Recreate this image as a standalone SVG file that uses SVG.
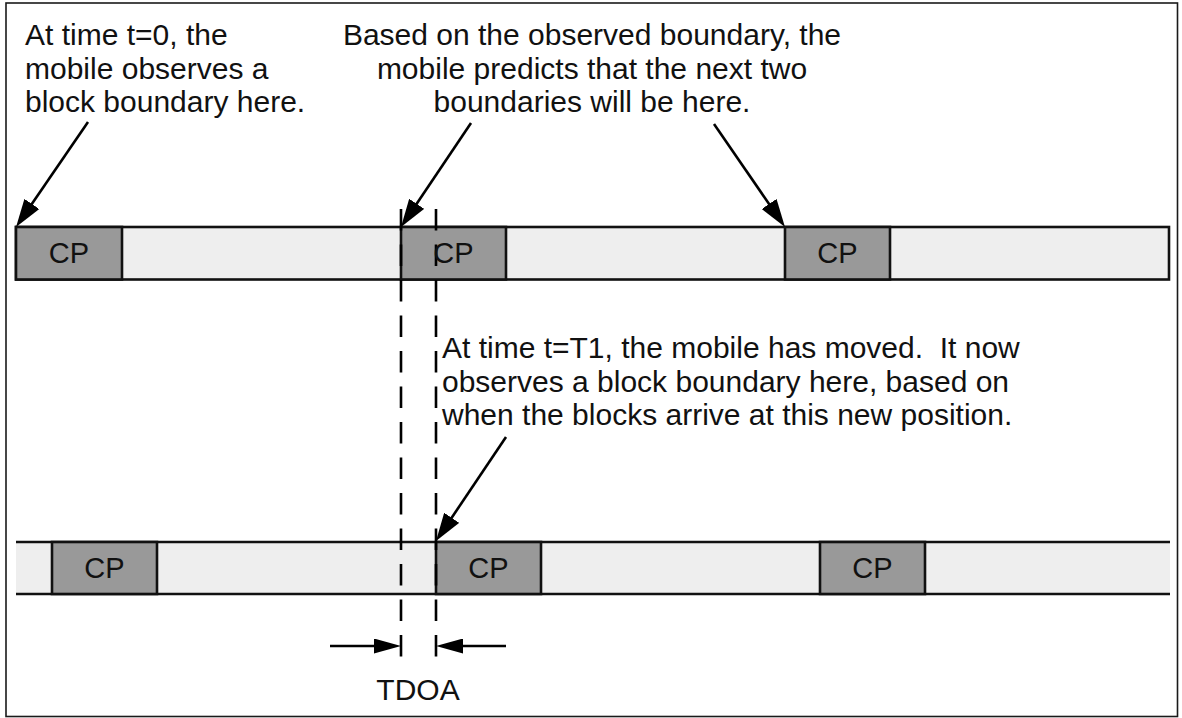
<svg xmlns="http://www.w3.org/2000/svg" width="1182" height="718" viewBox="0 0 1182 718">
  <style>
    .frame { fill: #ffffff; stroke: #1a1a1a; stroke-width: 1.6; }
    .bar { fill: #eeeeee; stroke: #111111; stroke-width: 2.6; }
    .rail { stroke: #111111; stroke-width: 2.6; fill: none; }
    .cp { fill: #999999; stroke: #111111; stroke-width: 2.6; }
    .lbl { font-family: "Liberation Sans", Arial, sans-serif; font-size: 30px; fill: #111111; }
    .cpt { font-family: "Liberation Sans", Arial, sans-serif; font-size: 29px; fill: #111111; text-anchor: middle; }
    .arrow { stroke: #000000; stroke-width: 2.6; fill: none; marker-end: url(#head); }
    .dim { stroke: #000000; stroke-width: 2.6; fill: none; marker-end: url(#dimhead); }
    .guide { stroke: #000000; stroke-width: 2.6; fill: none; stroke-dasharray: 21.5 14; }
  </style>
  <defs>
    <marker id="head" viewBox="0 0 28 18" refX="18" refY="9" markerWidth="28" markerHeight="18" markerUnits="userSpaceOnUse" orient="auto">
      <path d="M0,0 L28,9 L0,18 Z" fill="#000000"/>
    </marker>
    <marker id="dimhead" viewBox="0 0 27 15" refX="17" refY="7.5" markerWidth="27" markerHeight="15" markerUnits="userSpaceOnUse" orient="auto">
      <path d="M0,0 L27,7.5 L0,15 Z" fill="#000000"/>
    </marker>
  </defs>

  <rect class="frame" x="6" y="3" width="1171.5" height="713.5"/>

  <!-- upper block stream (t = 0) -->
  <g id="stream-t0">
    <rect class="bar" x="16" y="227" width="1153" height="52.5"/>
    <rect class="cp" x="16" y="227" width="106" height="52.5"/>
    <rect class="cp" x="401" y="227" width="105" height="52.5"/>
    <rect class="cp" x="785" y="227" width="105" height="52.5"/>
  </g>

  <!-- lower block stream (t = T1) -->
  <g id="stream-t1">
    <rect x="16" y="542" width="1154" height="52" fill="#eeeeee"/>
    <line class="rail" x1="16" y1="542" x2="1170" y2="542"/>
    <line class="rail" x1="16" y1="594" x2="1170" y2="594"/>
    <rect class="cp" x="52" y="542" width="105" height="52"/>
    <rect class="cp" x="436" y="542" width="105" height="52"/>
    <rect class="cp" x="820" y="542" width="105" height="52"/>
  </g>

  <!-- dashed boundary guides -->
  <g id="guides">
    <line class="guide" x1="401" y1="209" x2="401" y2="657"/>
    <line class="guide" x1="436" y1="209" x2="436" y2="657"/>
  </g>

  <!-- CP labels -->
  <g id="cp-labels">
    <text class="cpt" x="69" y="263">CP</text>
    <text class="cpt" x="453.5" y="263">CP</text>
    <text class="cpt" x="837.5" y="263">CP</text>
    <text class="cpt" x="104.5" y="578">CP</text>
    <text class="cpt" x="488.5" y="578">CP</text>
    <text class="cpt" x="872.5" y="578">CP</text>
  </g>

  <!-- callout arrows -->
  <g id="connectors">
    <line class="arrow" x1="88" y1="122" x2="21.7" y2="218.8"/>
    <line class="arrow" x1="471" y1="123" x2="406.6" y2="218.7"/>
    <line class="arrow" x1="714" y1="124" x2="779.3" y2="218.8"/>
    <line class="arrow" x1="506" y1="437" x2="441.6" y2="532.7"/>
    <line class="dim" x1="330" y1="646" x2="391" y2="646"/>
    <line class="dim" x1="506" y1="646" x2="446" y2="646"/>
  </g>

  <g id="note-t0">
    <text class="lbl" x="25" y="45">At time t=0, the</text>
    <text class="lbl" x="25" y="79">mobile observes a</text>
    <text class="lbl" x="25" y="112">block boundary here.</text>
  </g>

  <g id="note-prediction">
    <text class="lbl" text-anchor="middle" x="592" y="45">Based on the observed boundary, the</text>
    <text class="lbl" text-anchor="middle" x="592" y="79">mobile predicts that the next two</text>
    <text class="lbl" text-anchor="middle" x="592" y="112">boundaries will be here.</text>
  </g>

  <g id="note-t1">
    <text class="lbl" x="442" y="358" xml:space="preserve">At time t=T1, the mobile has moved.  It now</text>
    <text class="lbl" x="442" y="391.5">observes a block boundary here, based on</text>
    <text class="lbl" x="442" y="425">when the blocks arrive at this new position.</text>
  </g>

  <g id="tdoa-label">
    <text class="lbl" text-anchor="middle" x="418" y="700">TDOA</text>
  </g>
</svg>
